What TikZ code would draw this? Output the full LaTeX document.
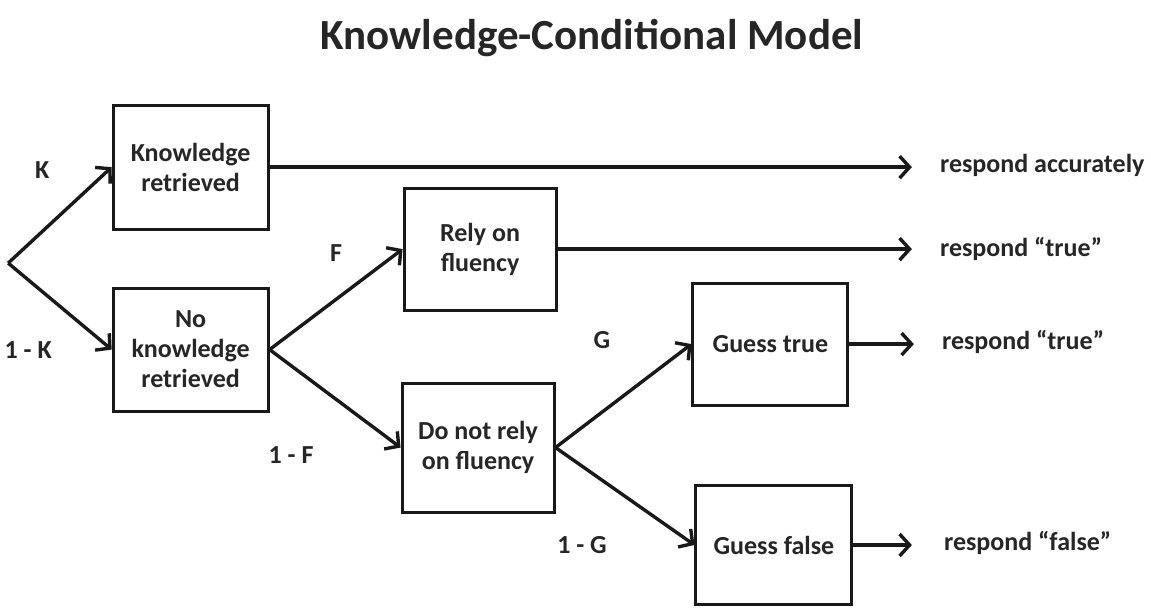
\documentclass[tikz,border=0pt]{standalone}
\usepackage{fontspec}
\setmainfont{Carlito}
\usetikzlibrary{arrows.meta}

\begin{document}
\begin{tikzpicture}[scale=1.000000,x=1pt,y=-1pt,
  box/.style={draw=black!90,line width=3pt,rectangle,align=center,inner sep=0pt,
    text=black!85,font=\bfseries\fontsize{26}{30}\selectfont},
  lbl/.style={inner sep=0pt,text=black!85,font=\bfseries\fontsize{26}{30}\selectfont},
  arr/.style={draw=black!90,line width=3.4pt,-{Straight Barb[length=10pt,width=22pt]}}]
\filldraw[color=white] (0.000000, 0.000000) rectangle (1151.000000, 607.000000);
\useasboundingbox (0.000000, 0.000000) rectangle (1151.000000, 607.000000);
% Title
\draw (592.000000, 49.000000) node[lbl,anchor=base,font=\bfseries\fontsize{43}{50}\selectfont] (title) {Knowledge-Conditional Model};
% Drawing boxes
\draw (190.500000, 167.000000) node[box,minimum width=155pt,minimum height=124pt] (know) {Knowledge\\retrieved};
\draw (190.500000, 349.500000) node[box,minimum width=155pt,minimum height=123pt] (noknow) {No\\knowledge\\retrieved};
\draw (480.000000, 249.000000) node[box,minimum width=152pt,minimum height=122pt] (rely) {Rely on\\fluency};
\draw (478.000000, 447.500000) node[box,minimum width=152pt,minimum height=129pt] (norely) {Do not rely\\on fluency};
\draw (770.500000, 344.000000) node[box,minimum width=155pt,minimum height=122pt] (gtrue) {Guess true};
\draw (774.000000, 545.000000) node[box,minimum width=156pt,minimum height=120pt] (gfalse) {Guess false};
% Done with boxes; drawing outcomes
\draw (940.000000, 165.000000) node[lbl,anchor=west] (racc) {respond accurately};
\draw (940.000000, 249.000000) node[lbl,anchor=west] (rtrueA) {respond “true”};
\draw (942.000000, 342.000000) node[lbl,anchor=west] (rtrueB) {respond “true”};
\draw (944.000000, 543.000000) node[lbl,anchor=west] (rfalse) {respond “false”};
% Done with outcomes; drawing probabilities
\draw (42.000000, 170.000000) node[lbl] (pK) {K};
\draw (28.000000, 350.000000) node[lbl] (pnK) {1 - K};
\draw (336.000000, 253.000000) node[lbl] (pF) {F};
\draw (291.000000, 455.000000) node[lbl] (pnF) {1 - F};
\draw (602.000000, 340.000000) node[lbl] (pG) {G};
\draw (582.000000, 545.000000) node[lbl] (pnG) {1 - G};
% Done with probabilities; drawing arrows
\coordinate (root) at (8.000000, 263.000000);
\draw[arr] (root) -- (know.west);
\draw[arr] (root) -- (noknow.west);
\draw[arr] (noknow.east) -- (rely.west);
\draw[arr] (noknow.east) -- (norely.west);
\draw[arr] (norely.east) -- (gtrue.west);
\draw[arr] (norely.east) -- (gfalse.west);
\draw[arr] (know.east) -- ([xshift=-28pt]know.east -| racc.west);
\draw[arr] (rely.east) -- ([xshift=-28pt]rely.east -| rtrueA.west);
\draw[arr] (gtrue.east) -- ([xshift=-28pt]gtrue.east -| rtrueB.west);
\draw[arr] (gfalse.east) -- ([xshift=-32pt]gfalse.east -| rfalse.west);
% Done with arrows
\end{tikzpicture}
\end{document}
